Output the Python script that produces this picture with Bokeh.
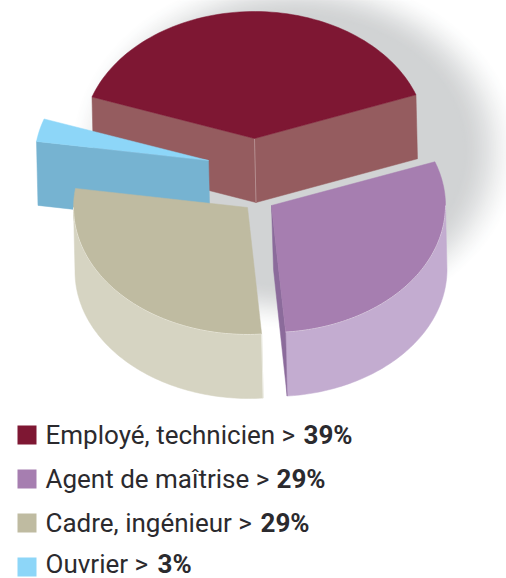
import numpy as np
from bokeh.plotting import figure
from bokeh.models import Range1d
from bokeh.core.properties import value
from bokeh.embed import file_html
from bokeh.resources import INLINE

categories = ["Employé, technicien", "Agent de maîtrise", "Cadre, ingénieur", "Ouvrier"]
pct_labels = ["39%", "29%", "29%", "3%"]
# slice sizes (percent of the turn)
shares = [39.1, 29.3, 28.7, 2.9]
top_colors = ["#7e1733", "#a67eb0", "#bfbba1", "#8dd6f8"]
rim_colors = ["#955c5f", "#c3acd0", "#d6d4c2", "#76b3d1"]
cut_colors = ["#955c5f", "#8b6b9b", "#d6d4c2", "#76b3d1"]

W, H = 506, 578
RY, DEPTH = 127, 64
RX = [172, 174, 174, 174]
START = 160.9
apex = [(254, 138), (271, 205), (247, 207), (208, 160)]

p = figure(width=W, height=H, x_range=Range1d(0, W), y_range=Range1d(H, 0),
           x_axis_type=None, y_axis_type=None, toolbar_location=None,
           output_backend="svg", min_border=0, outline_line_color=None,
           background_fill_color="white", border_fill_color="white")
p.grid.visible = False

# soft shadow behind the pie
SC, SN = (0xd1, 0xd3, 0xd4), 36
for i in range(SN):
    f = i / (SN - 1)
    s = f * f * (3 - 2 * f)
    c = tuple(int(round(255 + (a - 255) * s)) for a in SC)
    p.ellipse(x=[295], y=[150], width=[2 * (228 - 60 * f)], height=[2 * (182 - 48 * f)],
              fill_color="#%02x%02x%02x" % c, line_color=None)

# slice angles follow the shares
edges = START - np.cumsum([0] + shares) * 3.6


def rim(i, a0, a1, n=80):
    t = np.radians(np.linspace(a0, a1, n))
    return apex[i][0] + RX[i] * np.cos(t), apex[i][1] - RY * np.sin(t)


def corner(i, a):
    t = np.radians(a)
    return apex[i][0] + RX[i] * np.cos(t), apex[i][1] - RY * np.sin(t)


def quad(i, a, color):
    cx, cy = corner(i, a)
    ax, ay = apex[i]
    p.patch([ax, cx, cx + 1.5, ax + 1.5], [ay, cy, cy + DEPTH, ay + DEPTH],
            fill_color=color, line_color=color, line_width=0.5)


def top(i):
    x, y = rim(i, edges[i], edges[i + 1])
    p.patch(np.r_[apex[i][0], x], np.r_[apex[i][1], y],
            fill_color=top_colors[i], line_color=top_colors[i], line_width=0.5)


def side(i, a0, a1):
    x, y = rim(i, a0, a1)
    p.patch(np.r_[x, x[::-1] + 1.5], np.r_[y, y[::-1] + DEPTH],
            fill_color=rim_colors[i], line_color=rim_colors[i], line_width=0.5)


# burgundy: cut faces visible from behind
quad(0, edges[0], cut_colors[0])
quad(0, edges[1], cut_colors[0])
p.line([apex[0][0], apex[0][0] + 1.5], [apex[0][1], apex[0][1] + DEPTH],
       line_color="#b58e90", line_width=1)
top(0)

# ouvrier
quad(3, edges[3], cut_colors[3])
top(3)

# cadre
side(2, edges[2], max(edges[3], -180))
top(2)
x2, y2 = rim(2, edges[2], max(edges[3], -180))
p.line(x2, y2, line_color="#e4e2d4", line_width=1)
side_end = corner(2, edges[2])
p.line([side_end[0], side_end[0] + 1.5], [side_end[1], side_end[1] + DEPTH],
       line_color="#eeeee6", line_width=1)

# agent de maitrise
side(1, 0, edges[2])
ax, ay = apex[1]
cx, cy = corner(1, edges[2])
p.patch([ax, cx, cx + 1.5, ax + 2], [ay, cy, cy + DEPTH, ay + DEPTH],
        fill_color=cut_colors[1], line_color=cut_colors[1], line_width=0.5)
top(1)
x1, y1 = rim(1, 0, edges[2])
p.line(x1, y1, line_color="#d4c4db", line_width=1)

# legend
TEXT = "#2b2a2e"
FONT = value("Roboto")
row_y = [434.5, 478.5, 522.5, 566.5]
text_y = [434.5, 478.5, 522.5, 563.5]
pct_x = [303, 276, 260, 157]
for i, cat in enumerate(categories):
    p.rect(x=[26.5], y=[row_y[i]], width=[19], height=[19],
           fill_color=top_colors[i], line_color=None)
    p.text(x=[45], y=[text_y[i]], text=[cat + " >"], text_font=FONT,
           text_font_size="26px", text_color=TEXT,
           text_baseline="middle", text_align="left")
    p.text(x=[pct_x[i]], y=[text_y[i]], text=[pct_labels[i]], text_font=FONT,
           text_font_size="26px", text_font_style="bold", text_color=TEXT,
           text_baseline="middle", text_align="left")

open("out.html", "w").write(file_html(p, INLINE))
